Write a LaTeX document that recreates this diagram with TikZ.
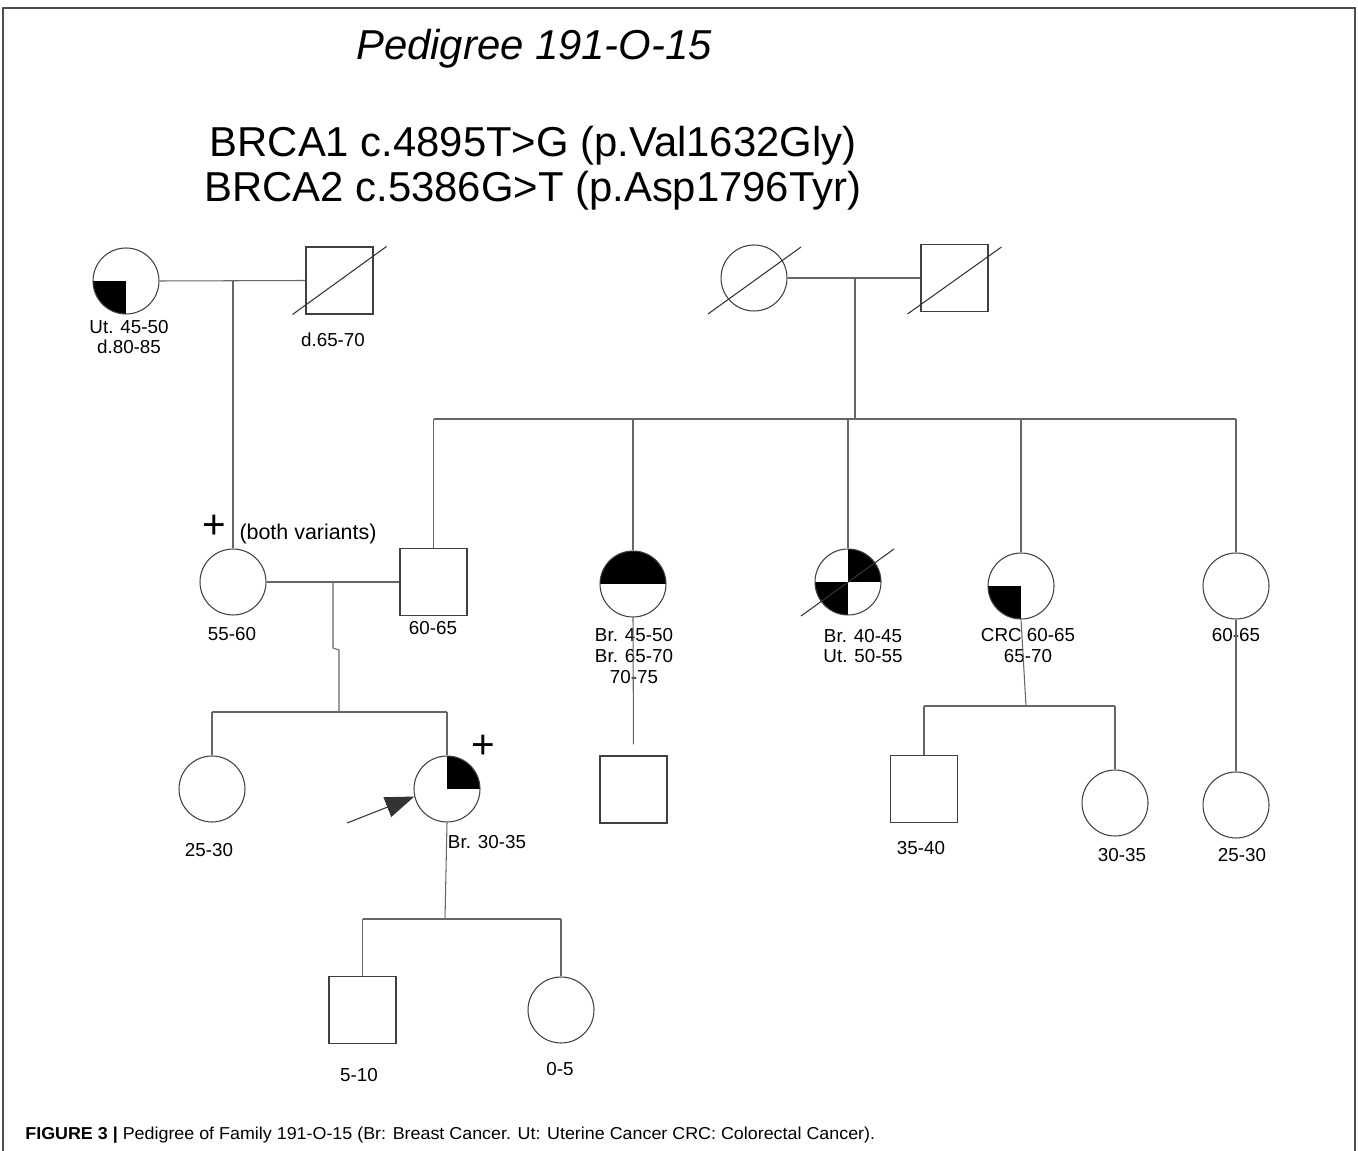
\documentclass[tikz,border=0pt]{standalone}
\usepackage{fontspec}
\setmainfont{Liberation Sans}
\usetikzlibrary{arrows.meta}
\tikzset{
  fem/.style={circle,draw=black!75,line width=0.6pt,minimum size=1.32cm,inner sep=0pt},
  male/.style={rectangle,draw=black!75,line width=0.6pt,minimum size=1.34cm,inner sep=0pt},
  quadLL/.style={path picture={\fill (path picture bounding box.center) rectangle (path picture bounding box.south west);}},
  quadUR/.style={path picture={\fill (path picture bounding box.center) rectangle (path picture bounding box.north east);}},
  quadX/.style={path picture={\fill (path picture bounding box.center) rectangle (path picture bounding box.north east);
                              \fill (path picture bounding box.center) rectangle (path picture bounding box.south west);}},
  halfup/.style={path picture={\fill (path picture bounding box.west) rectangle (path picture bounding box.north east);}},
  link/.style={draw=black!60,line width=0.6pt},
  slash/.style={draw=black!80,line width=0.6pt},
  lbl/.style={font=\fontsize{10.7}{11.9}\selectfont,align=center,inner sep=0pt},
  plus/.style={font=\fontsize{23}{24}\selectfont,inner sep=0pt},
  bigtitle/.style={font=\fontsize{23.8}{25.5}\selectfont,align=center,inner sep=0pt},
  frame/.style={draw=black!70,line width=0.9pt}
}
\begin{document}
\begin{tikzpicture}[x=0.02cm,y=-0.02cm]
\useasboundingbox (0,0) rectangle (1358,1151);
\draw[frame] (3,1151) -- (3,8) -- (1355,8) -- (1355,1151);

\node[bigtitle,font=\fontsize{23.8}{25.5}\selectfont\itshape] (title) at (534,49) {Pedigree 191-O-15};
\node[bigtitle] (variants) at (533,168) {BRCA1 c.4895T>G (p.Val1632Gly)\\BRCA2 c.5386G>T (p.Asp1796Tyr)};

\node[fem,quadLL] (utgm) at (126,281) {};
\node[male] (gf) at (339.5,280.5) {};
\node[fem] (ggm) at (754,278) {};
\node[male] (ggf) at (954.5,278) {};
\draw[slash] ([shift={(-47,34)}]gf.center) -- ([shift={(47,-34)}]gf.center);
\draw[slash] ([shift={(-46,36)}]ggm.center) -- ([shift={(47,-31)}]ggm.center);
\draw[slash] ([shift={(-47,36)}]ggf.center) -- ([shift={(47,-31)}]ggf.center);
\node[lbl] (utgmlbl) at (129,337) {Ut. 45-50\\d.80-85};
\node[lbl] (gflbl) at (333,340) {d.65-70};

\node[fem] (mo) at (233,582) {};
\node[male] (fa) at (433.5,582) {};
\node[fem,halfup] (br45) at (633,584) {};
\node[fem,quadX] (br40) at (848,582) {};
\node[fem,quadLL] (crc) at (1021,586) {};
\node[fem] (aunt) at (1236,586) {};
\draw[slash] ([shift={(-47,34)}]br40.center) -- ([shift={(46,-33)}]br40.center);
\node[plus] (moplus) at (214,527) {+};
\node[font=\fontsize{12.2}{14}\selectfont,inner sep=0pt] (both) at (308,534) {(both variants)};
\node[lbl] (molbl) at (232,634) {55-60};
\node[lbl] (falbl) at (433,628) {60-65};
\node[lbl] (br45lbl) at (634,656) {Br. 45-50\\Br. 65-70\\70-75};
\node[lbl] (br40lbl) at (863,646) {Br. 40-45\\Ut. 50-55};
\node[lbl] (crclbl) at (1028,645.5) {CRC 60-65\\65-70};
\node[lbl] (auntlbl) at (1236,635) {60-65};

\node[fem] (sis) at (212,789) {};
\node[fem,quadUR] (pb) at (447,789) {};
\node[male] (cou1) at (633.5,789.5) {};
\node[male] (cou2) at (924,789) {};
\node[fem] (cou3) at (1115,803) {};
\node[fem] (cou4) at (1236,805) {};
\node[plus] (pbplus) at (483,747) {+};
\node[lbl] (sislbl) at (209,850) {25-30};
\node[lbl] (pblbl) at (487,842) {Br. 30-35};
\node[lbl] (cou2lbl) at (921,848) {35-40};
\node[lbl] (cou3lbl) at (1122,855) {30-35};
\node[lbl] (cou4lbl) at (1242,855) {25-30};

\node[male] (son) at (362.5,1010) {};
\node[fem] (dau) at (561,1010) {};
\node[lbl] (sonlbl) at (359,1075) {5-10};
\node[lbl] (daulbl) at (560,1069) {0-5};

\coordinate (m1) at (233,281);
\coordinate (m2) at (855,278);
\coordinate (s2) at (855,419);
\coordinate (m3) at (333,582);
\coordinate (s3) at (339,712);
\coordinate (s4) at (1026,706);
\coordinate (s5) at (445,919);
\coordinate (arr) at (347,823);

\draw[link] (utgm.east) -- (gf.west);
\draw[link] (m1) -- (mo.north);
\draw[link] (ggm.east) -- (ggf.west);
\draw[link] (m2) -- (s2);
\draw[link] (fa.north |- s2) -- (aunt.north |- s2);
\foreach \k in {fa,br45,br40,crc,aunt}
  \draw[link] (\k.north |- s2) -- (\k.north);

\draw[link] (mo.east) -- (fa.west);
\draw[link] (m3) -- (333,648) -- (339,650) -- (s3);
\draw[link] (sis.north |- s3) -- (pb.north |- s3);
\draw[link] (sis.north |- s3) -- (sis.north);
\draw[link] (pb.north |- s3) -- (pb.north);

\draw[link,shorten >=0.22cm] (br45.south) -- (cou1.north);

\draw[link] (crc.south) -- (s4);
\draw[link] (cou2.north |- s4) -- (cou3.north |- s4);
\draw[link] (cou2.north |- s4) -- (cou2.north);
\draw[link] (cou3.north |- s4) -- (cou3.north);

\draw[link] (aunt.south) -- (cou4.north);

\draw[link] (pb.south) -- (s5);
\draw[link] (son.north |- s5) -- (dau.north |- s5);
\draw[link] (son.north |- s5) -- (son.north);
\draw[link] (dau.north |- s5) -- (dau.north);

\draw[draw=black!80,line width=0.6pt,-{Triangle[length=0.58cm,width=0.42cm]}] (arr) -- (pb.193);

\node[anchor=base west,inner sep=0pt] (caption) at (25,1139)
  {\resizebox{17cm}{0.25cm}{\textbf{FIGURE 3 |} Pedigree of Family 191-O-15 (Br: Breast Cancer. Ut: Uterine Cancer CRC: Colorectal Cancer).}};
\end{tikzpicture}
\end{document}
